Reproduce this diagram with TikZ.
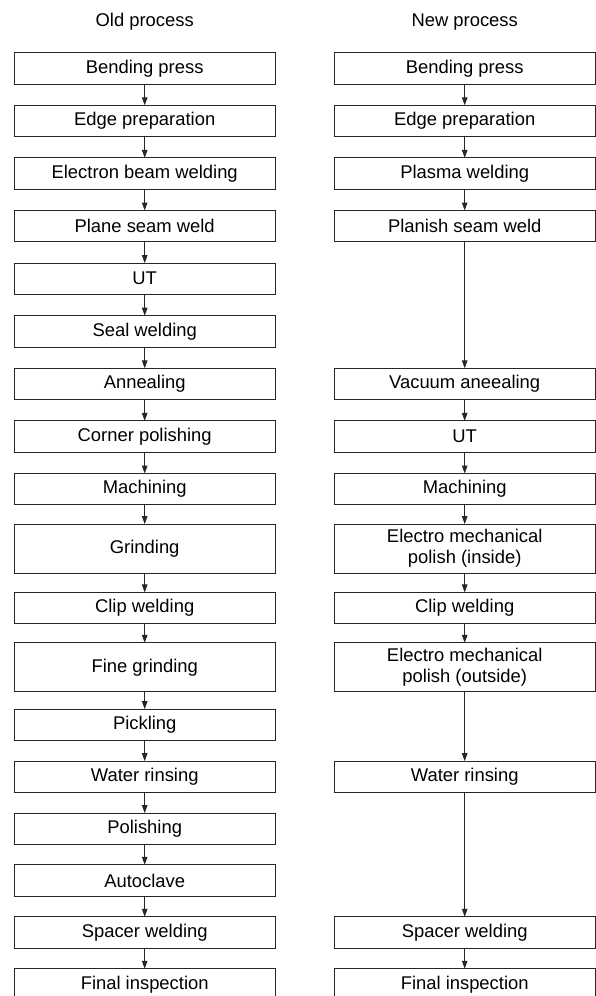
\documentclass[tikz,border=0pt]{standalone}
\usepackage{fontspec}
\setmainfont{Liberation Sans}
\usetikzlibrary{positioning,arrows.meta}

\begin{document}
\begin{tikzpicture}[x=1pt,y=1pt,every node/.style={font=\fontsize{18.4}{21}\selectfont}]
  \tikzstyle{stage}=[draw=black!85, line width=1pt, minimum width=261pt, minimum height=31.3pt, inner sep=0pt, outer sep=0pt, align=center]
  \tikzstyle{tall}=[stage, minimum height=49pt]
  \tikzstyle{flow}=[draw=black!85, line width=1pt, -{Triangle[length=8pt,width=5.5pt]}]
  \useasboundingbox (0,0) rectangle (596,-996);
  \node[stage] (oldbend) at (144.7,-68.35) {Bending press};
  \node[stage, below=21.3pt of oldbend] (oldedge) {Edge preparation};
  \node[stage, below=21.3pt of oldedge] (oldebw) {Electron beam welding};
  \node[stage, below=21.3pt of oldebw] (oldseam) {Plane seam weld};
  \node[stage, below=21.3pt of oldseam] (oldut) {UT};
  \node[stage, below=21.3pt of oldut] (oldseal) {Seal welding};
  \node[stage, below=21.3pt of oldseal] (oldanneal) {Annealing};
  \node[stage, below=21.3pt of oldanneal] (oldcorner) {Corner polishing};
  \node[stage, below=21.3pt of oldcorner] (oldmach) {Machining};
  \node[tall, below=19.3pt of oldmach] (oldgrind) {Grinding};
  \node[stage, below=19.3pt of oldgrind] (oldclip) {Clip welding};
  \node[tall, below=19.1pt of oldclip] (oldfine) {Fine grinding};
  \node[stage, below=17.3pt of oldfine] (oldpickle) {Pickling};
  \node[stage, below=20.7pt of oldpickle] (oldrinse) {Water rinsing};
  \node[stage, below=20.7pt of oldrinse] (oldpolish) {Polishing};
  \node[stage, below=20.4pt of oldpolish] (oldauto) {Autoclave};
  \node[stage, below=20.7pt of oldauto] (oldspacer) {Spacer welding};
  \node[stage, below=20.7pt of oldspacer] (oldfinal) {Final inspection};

  \node[stage, right=59pt of oldbend] (newbend) {Bending press};
  \node[stage, right=59pt of oldedge] (newedge) {Edge preparation};
  \node[stage, right=59pt of oldebw] (newplasma) {Plasma welding};
  \node[stage, right=59pt of oldseam] (newseam) {Planish seam weld};
  \node[stage, right=59pt of oldanneal] (newanneal) {Vacuum aneealing};
  \node[stage, right=59pt of oldcorner] (newut) {UT};
  \node[stage, right=59pt of oldmach] (newmach) {Machining};
  \node[tall, right=59pt of oldgrind] (newinside) {Electro mechanical\\polish (inside)};
  \node[stage, right=59pt of oldclip] (newclip) {Clip welding};
  \node[tall, right=59pt of oldfine] (newoutside) {Electro mechanical\\polish (outside)};
  \node[stage, right=59pt of oldrinse] (newrinse) {Water rinsing};
  \node[stage, right=59pt of oldspacer] (newspacer) {Spacer welding};
  \node[stage, right=59pt of oldfinal] (newfinal) {Final inspection};

  \node[inner sep=0pt, above=22pt of oldbend] (oldtitle) {Old process};
  \node[inner sep=0pt, above=22pt of newbend] (newtitle) {New process};

  \foreach \a/\b in {oldbend/oldedge, oldedge/oldebw, oldebw/oldseam, oldseam/oldut, oldut/oldseal,
      oldseal/oldanneal, oldanneal/oldcorner, oldcorner/oldmach, oldmach/oldgrind, oldgrind/oldclip,
      oldclip/oldfine, oldfine/oldpickle, oldpickle/oldrinse, oldrinse/oldpolish, oldpolish/oldauto,
      oldauto/oldspacer, oldspacer/oldfinal,
      newbend/newedge, newedge/newplasma, newplasma/newseam, newseam/newanneal, newanneal/newut,
      newut/newmach, newmach/newinside, newinside/newclip, newclip/newoutside, newoutside/newrinse,
      newrinse/newspacer, newspacer/newfinal}
    \draw[flow] (\a) -- (\b);
\end{tikzpicture}
\end{document}
